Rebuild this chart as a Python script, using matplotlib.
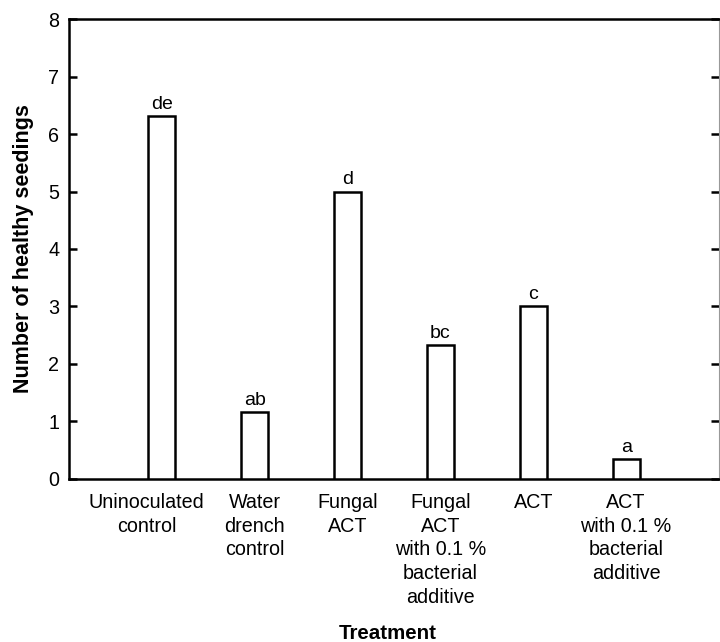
import matplotlib
matplotlib.use("Agg")
import matplotlib.pyplot as plt
from matplotlib.transforms import ScaledTranslation

plt.rcParams["font.family"] = ["Liberation Sans", "DejaVu Sans"]

# treatments, mean healthy seedlings and significance letters
treatments = [
    "Uninoculated\ncontrol",
    "Water\ndrench\ncontrol",
    "Fungal\nACT",
    "Fungal\nACT\nwith 0.1 %\nbacterial\nadditive",
    "ACT",
    "ACT\nwith 0.1 %\nbacterial\nadditive",
]
seedlings = [6.31, 1.16, 5.0, 2.33, 3.0, 0.34]
letters = ["de", "ab", "d", "bc", "c", "a"]

fig = plt.figure(figsize=(7.2, 6.42), dpi=100)
ax = fig.add_axes([0.0958, 0.2539, 0.9028, 0.7165])

x = list(range(len(treatments)))
ax.bar(x, seedlings, width=0.29, color="white", edgecolor="black", linewidth=1.8, zorder=3)

# letters above the bars
for xi, v, lab in zip(x, seedlings, letters):
    ax.text(xi, v + 0.06, lab, ha="center", va="bottom", fontsize=14)

ax.set_xlim(-1, 6)
ax.set_ylim(0, 8)
ax.set_yticks(range(0, 9))
ax.set_xticks(x)
ax.set_xticklabels(treatments, fontsize=14.2, linespacing=1.32, va="top")
ax.tick_params(axis="x", length=0, pad=10)
ax.tick_params(axis="y", direction="in", length=6, width=1.8, labelsize=14.2, right=True, pad=7)

# first label sits a bit left of its bar in the original
first = ax.get_xticklabels()[0]
first.set_transform(first.get_transform() + ScaledTranslation(-0.15, 0, fig.dpi_scale_trans))

for s in ax.spines.values():
    s.set_linewidth(1.8)
ax.spines["right"].set_linewidth(0.8)
ax.spines["right"].set_color("#999999")

ax.set_ylabel("Number of healthy seedings", fontsize=15.5, fontweight="bold", labelpad=10)
fig.text(0.539, 0.005, "Treatment", fontsize=14.8, fontweight="bold", ha="center", va="baseline")

fig.savefig("out.png", dpi=100)
